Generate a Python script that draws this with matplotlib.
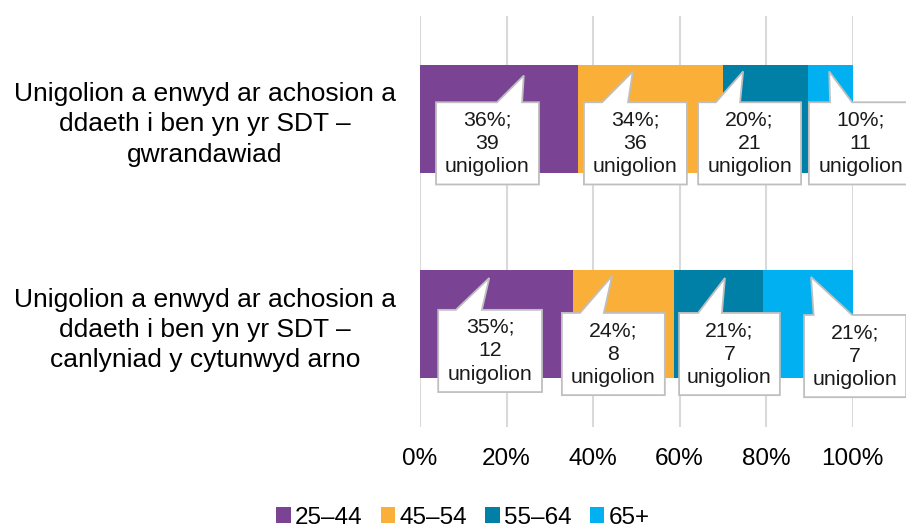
import matplotlib.pyplot as plt
import numpy as np
from matplotlib.patches import Polygon, Patch

plt.rcParams['font.family'] = ['Liberation Sans', 'DejaVu Sans']

categories = [
    'Unigolion a enwyd ar achosion a\nddaeth i ben yn yr SDT –\ngwrandawiad',
    'Unigolion a enwyd ar achosion a\nddaeth i ben yn yr SDT –\ncanlyniad y cytunwyd arno',
]
age_groups = ['25–44', '45–54', '55–64', '65+']
counts_hearing = [39, 36, 21, 11]
counts_agreed = [12, 8, 7, 7]
colors = ['#7B4393', '#FAAF38', '#0080A6', '#00B0F0']

# callout layout (x in %, y in category units): box x0, x1, y0, y1, base x0, base x1, tip x, tip y
callouts = [
    [(3.7, 27.5, -0.08, 0.32, 17.8, 23.6, 24.0, -0.21),
     (37.9, 61.7, -0.08, 0.32, 42.1, 48.1, 49.2, -0.23),
     (64.3, 88.1, -0.08, 0.32, 68.4, 74.0, 74.7, -0.23),
     (89.9, 113.8, -0.08, 0.32, 94.8, 99.9, 94.6, -0.23)],
    [(4.2, 28.2, 0.93, 1.33, 8.3, 14.3, 16.0, 0.775),
     (32.8, 56.6, 0.945, 1.345, 37.0, 42.5, 44.4, 0.765),
     (59.9, 83.2, 0.945, 1.345, 64.3, 69.8, 70.5, 0.775),
     (88.8, 112.4, 0.955, 1.355, 91.0, 99.9, 90.4, 0.77)],
]

rows = [np.array(counts_hearing), np.array(counts_agreed)]
shares = [r / r.sum() * 100 for r in rows]

fig = plt.figure(figsize=(9.06, 5.32), dpi=100)
ax = fig.add_axes([0.4636, 0.1974, 0.4774, 0.7726])

y = np.arange(len(categories))
left = np.zeros(len(categories))
for j, grp in enumerate(age_groups):
    vals = np.array([s[j] for s in shares])
    ax.barh(y, vals, left=left, height=0.525, color=colors[j], zorder=2)
    left += vals

for i in range(len(categories)):
    for j in range(len(age_groups)):
        x0, x1, y0, y1, b0, b1, tx, ty = callouts[i][j]
        poly = Polygon([(x0, y0), (b0, y0), (tx, ty), (b1, y0), (x1, y0), (x1, y1), (x0, y1)],
                       closed=True, facecolor='white', edgecolor='#BFBFBF', linewidth=1.3,
                       zorder=3, clip_on=False)
        ax.add_patch(poly)
        txt = f'{round(shares[i][j])}%;\n{rows[i][j]}\nunigolion'
        ax.text((x0 + x1) / 2, (y0 + y1) / 2, txt, ha='center', va='center',
                fontsize=15.3, linespacing=1.3, color='#1a1a1a', zorder=4, clip_on=False)

ax.set_xlim(0, 100)
ax.set_ylim(1.5, -0.5)
ax.set_xticks([0, 20, 40, 60, 80, 100])
ax.set_xticklabels(['0%', '20%', '40%', '60%', '80%', '100%'], fontsize=17.5)
ax.set_yticks(y)
ax.set_yticklabels(categories, fontsize=19, linespacing=1.33)
for lbl in ax.get_yticklabels():
    lbl.set_ha('center')
ax.tick_params(axis='y', length=0, pad=155)
ax.tick_params(axis='x', length=0, pad=15)
ax.grid(axis='x', color='#D9D9D9', linewidth=1.5, zorder=0)
ax.set_axisbelow(True)
for s in ax.spines.values():
    s.set_visible(False)

handles = [Patch(facecolor=c, label=g) for c, g in zip(colors, age_groups)]
fig.legend(handles=handles, loc='center', bbox_to_anchor=(0.511, 0.027), ncol=4, frameon=False,
           fontsize=17.5, handlelength=0.6, handleheight=0.6, handletextpad=0.17, columnspacing=0.75,
           borderaxespad=0, borderpad=0)

plt.savefig('out.png', dpi=100)
